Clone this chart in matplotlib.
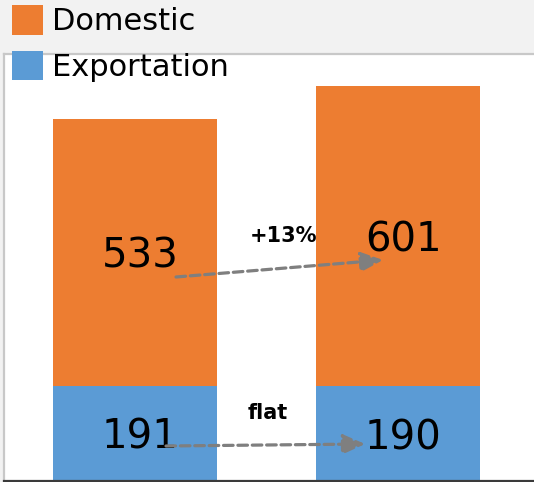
import matplotlib
matplotlib.use("Agg")
import matplotlib.pyplot as plt

years = [0, 1]
domestic = [533, 601]
exportation = [191, 190]
series_names = ["Domestic", "Exportation"]
changes = ["+13%", "flat"]

orange = "#ED7D31"
blue = "#5B9BD5"
arrow_gray = "#7F7F7F"

plt.rcParams['font.family'] = ['DejaVu Sans']

fig = plt.figure(figsize=(5.34, 4.82), dpi=100, facecolor="#F2F2F2")
ax = fig.add_axes([4 / 534, 1 / 482, 530 / 534, 427 / 482])
ax.set_facecolor("white")

width = 0.624
b1 = ax.bar(years, exportation, width, color=blue, label=series_names[1])
b2 = ax.bar(years, domestic, width, bottom=exportation, color=orange, label=series_names[0])

ax.set_xlim(-0.498, 1.517)
ax.set_ylim(0, 854)
ax.set_xticks([])
ax.set_yticks([])
for s in ["top", "left"]:
    ax.spines[s].set_color("#C8C8C8")
    ax.spines[s].set_linewidth(1.6)
ax.spines["right"].set_visible(False)
ax.spines["bottom"].set_color("#3A3A3A")
ax.spines["bottom"].set_linewidth(1.6)

# value labels in the middle of each segment
for x, e, d in zip(years, exportation, domestic):
    ax.text(x + 0.02, e / 2, str(e), ha="center", va="center_baseline", fontsize=29, color="black")
    ax.text(x + 0.02, e + d / 2, str(d), ha="center", va="center_baseline", fontsize=29, color="black")

# change arrows
arrow_kw = dict(arrowstyle="-|>,head_length=0.9,head_width=0.4", linestyle=(0, (3, 1.5)),
                lw=2.3, color=arrow_gray, shrinkA=0, shrinkB=0, mutation_scale=15)
ax.annotate("", xy=(0.943, 442), xytext=(0.156, 408), arrowprops=arrow_kw)
ax.annotate("", xy=(0.875, 74), xytext=(0.118, 70), arrowprops=arrow_kw)
ax.text(0.563, 490, changes[0], ha="center", va="center", fontsize=15, fontweight="bold")
ax.text(0.506, 136, changes[1], ha="center", va="center", fontsize=15, fontweight="bold")

fig.legend(handles=[b2, b1], labels=series_names, loc="upper left",
           bbox_to_anchor=(12 / 534, 1 - 5 / 482), frameon=False, fontsize=22,
           handlelength=1.0, handleheight=1.12, handletextpad=0.3,
           labelspacing=0.47, borderaxespad=0, borderpad=0)

fig.savefig("out.png", dpi=100, facecolor=fig.get_facecolor())
